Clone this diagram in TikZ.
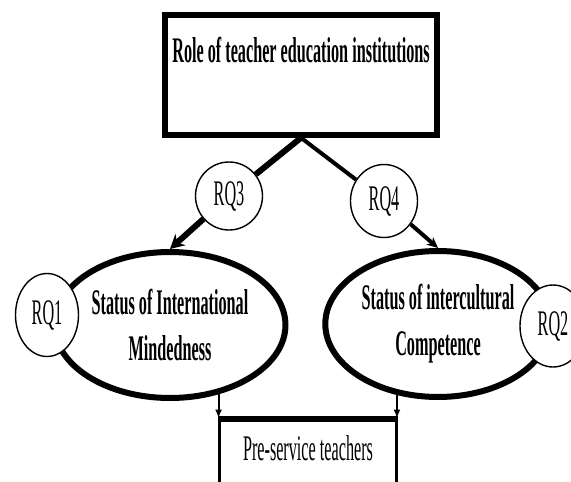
\documentclass[tikz,border=0pt]{standalone}
\usepackage{fontspec}
\newfontfamily\narrowfont[FakeStretch=0.45]{Liberation Serif}
\usetikzlibrary{arrows.meta,shapes.geometric}

\begin{document}
\begin{tikzpicture}[
    x=1pt,y=-1pt,
    font=\narrowfont\fontsize{36}{46}\selectfont,
    box/.style={draw,line width=5.5pt,minimum width=272pt,
      minimum height=120pt,text height=25pt,text depth=51pt,
      font=\narrowfont\fontsize{36}{46}\selectfont\bfseries},
    oval/.style={draw,ellipse,line width=6pt,minimum width=220pt,
      minimum height=146pt,align=center,
      font=\narrowfont\fontsize{36}{46}\selectfont\bfseries},
    rq/.style={draw,ellipse,line width=1.4pt,fill=white,inner sep=0pt,
      minimum width=67pt,minimum height=70pt},
    target/.style={draw,line width=3pt,minimum width=177pt,
      minimum height=76pt,text height=25pt,text depth=21pt},
    bigflow/.style={-{Stealth[length=14pt,width=15pt]},line width=6pt},
    smallflow/.style={-{Stealth[length=11pt,width=10pt]},line width=4pt},
    downflow/.style={-{Latex[length=9pt,width=7pt]},line width=2pt}
  ]
    \useasboundingbox (0,0) rectangle (571,482);
    \fill[white] (0,0) rectangle (571,482);

    \node[box] (role) at (301,75) {Role of teacher education institutions};
    \node[oval] (mind) at (170,325) {Status of International\\Mindedness};
    \node[oval,minimum width=216pt] (comp) at (438,324) {Status of intercultural\\Competence};
    \node[rq,minimum width=63pt,minimum height=83pt] (rq1) at (47,315) {RQ1};
    \node[rq,minimum width=66pt,minimum height=82pt] (rq2) at (553,326) {RQ2};
    \node[rq,minimum height=68pt] (rq3) at (229,196) {RQ3};
    \node[rq,minimum height=73pt] (rq4) at (384,201) {RQ4};
    \node[target] (pre) at (308,458) {Pre-service teachers};
    \draw[line width=6pt] (pre.north west) -- (pre.north east);

    \draw[line width=6pt] (role.south) -- (rq3);
    \draw[line width=4pt] (role.south) -- (rq4);
    \draw[bigflow] (rq3) -- (mind.north);
    \draw[smallflow] (rq4) -- (comp.north);
    \draw[downflow] (mind.-55) -- (mind.-55 |- pre.north);
    \draw[downflow] (comp.-120) -- (comp.-120 |- pre.north);
  \end{tikzpicture}
\end{document}
